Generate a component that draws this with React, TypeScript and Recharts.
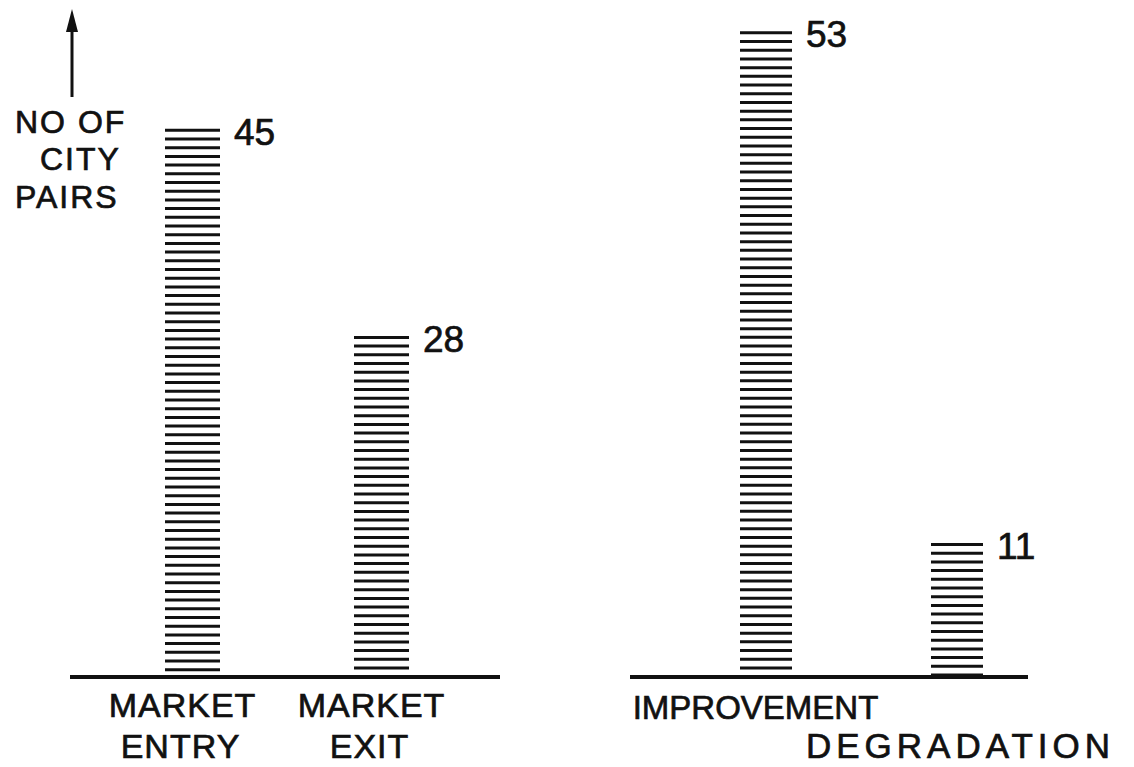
import { Bar, BarChart, LabelList, XAxis, YAxis } from "recharts"

const marketCategories = ["MARKET ENTRY", "MARKET EXIT"]
const marketValues = [45, 28]
const serviceCategories = ["IMPROVEMENT", "DEGRADATION"]
const serviceValues = [53, 11]
const yDomain = [0, 55]
const yTitle = ["NO OF", "CITY", "PAIRS"]

const marketData = marketCategories.map((name, i) => ({ name, value: marketValues[i] }))
const serviceData = serviceCategories.map((name, i) => ({ name, value: serviceValues[i] }))

const FONT = "'Liberation Sans', Arial, sans-serif"
const INK = "#111"

// bars are drawn as stacks of horizontal hatch strokes, like the scan
function HatchedBar(props: any) {
  const { x, y, width, height } = props
  const lines = []
  const step = 8.7
  for (let yy = y + 1.5; yy <= y + height - 1; yy += step) {
    lines.push(
      <line key={yy} x1={x} x2={x + width} y1={yy} y2={yy} stroke={INK} strokeWidth={3} />
    )
  }
  return <g>{lines}</g>
}

function ValueLabel(props: any) {
  const { x, y, width, value } = props
  return (
    <text
      x={x + width + 14}
      y={y + 16}
      fontFamily={FONT}
      fontSize={37}
      fill={INK}
      stroke={INK}
      strokeWidth={0.7}
    >
      {value}
    </text>
  )
}

function MarketTick(props: any) {
  const { x, y, payload } = props
  const [top, bottom] = String(payload.value).split(" ")
  return (
    <g fontFamily={FONT} fontSize={34} fill={INK} stroke={INK} strokeWidth={0.7} textAnchor="middle" letterSpacing={1}>
      <text x={x - 10} y={y + 38}>{top}</text>
      <text x={x - 12} y={y + 79}>{bottom}</text>
    </g>
  )
}

function ServiceTick(props: any) {
  const { x, y, payload, index } = props
  const lower = index === 1
  return (
    <text
      x={x + (lower ? 4 : -10)}
      y={y + (lower ? 79 : 40)}
      fontFamily={FONT}
      fontSize={lower ? 35 : 33}
      fill={INK}
      stroke={INK}
      strokeWidth={0.7}
      textAnchor="middle"
      letterSpacing={lower ? 5 : 0}
    >
      {payload.value}
    </text>
  )
}

export default function App() {
  return (
    <div style={{ position: "absolute", left: 0, top: 0, width: 1134, height: 767, background: "#fff" }}>
      <svg style={{ position: "absolute", left: 0, top: 0 }} width={200} height={220}>
        <line x1={72} x2={72} y1={28} y2={97} stroke={INK} strokeWidth={3} />
        <polygon points="72,9 66,32 78,32" fill={INK} />
        <g fontFamily={FONT} fontSize={32} fill={INK} stroke={INK} strokeWidth={0.7} letterSpacing={2}>
          <text x={15} y={133}>{yTitle[0]}</text>
          <text x={40} y={170}>{yTitle[1]}</text>
          <text x={15} y={208}>{yTitle[2]}</text>
        </g>
      </svg>

      <div style={{ position: "absolute", left: 0, top: 0 }}>
        <BarChart width={560} height={767} data={marketData} margin={{ top: 7, right: 60, bottom: 10, left: 70 }}>
          <YAxis hide domain={yDomain} />
          <XAxis
            dataKey="name"
            height={80}
            tickSize={0}
            tickLine={false}
            padding={{ left: 28, right: 24 }}
            axisLine={{ stroke: INK, strokeWidth: 4 }}
            tick={<MarketTick />}
            interval={0}
          />
          <Bar dataKey="value" barSize={55} shape={<HatchedBar />} isAnimationActive={false}>
            <LabelList dataKey="value" content={<ValueLabel />} />
          </Bar>
        </BarChart>
      </div>

      <div style={{ position: "absolute", left: 600, top: 0 }}>
        <BarChart width={534} height={767} data={serviceData} margin={{ top: 7, right: 106, bottom: 10, left: 30 }}>
          <YAxis hide domain={yDomain} />
          <XAxis
            dataKey="name"
            height={80}
            tickSize={0}
            tickLine={false}
            padding={{ left: 40, right: -24 }}
            axisLine={{ stroke: INK, strokeWidth: 4 }}
            tick={<ServiceTick />}
            interval={0}
          />
          <Bar dataKey="value" barSize={52} shape={<HatchedBar />} isAnimationActive={false}>
            <LabelList dataKey="value" content={<ValueLabel />} />
          </Bar>
        </BarChart>
      </div>
    </div>
  )
}
